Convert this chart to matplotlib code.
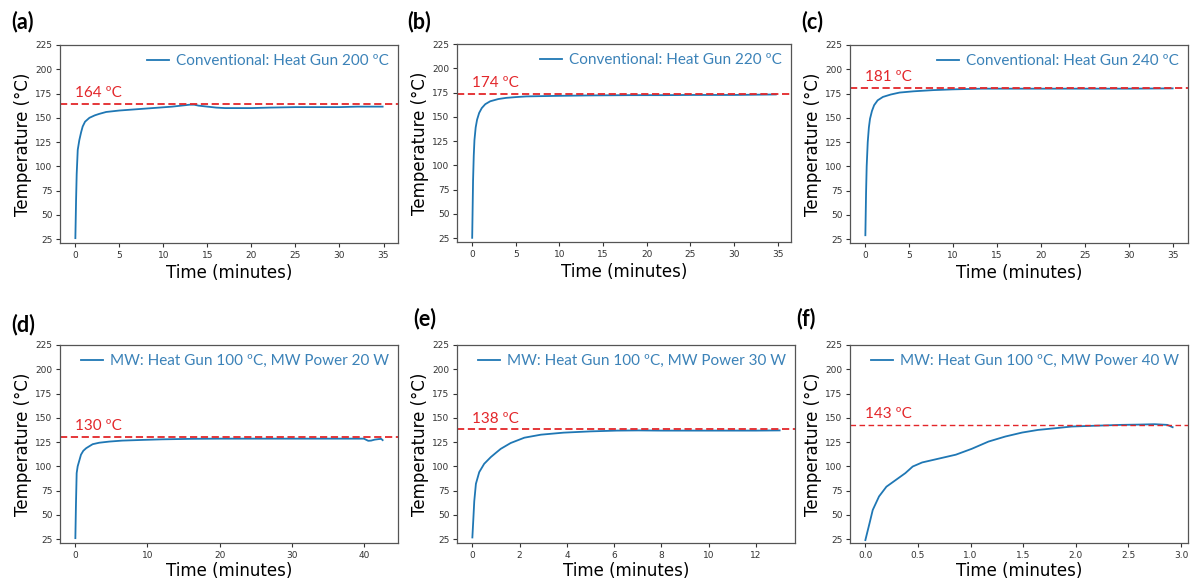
import matplotlib
matplotlib.use("Agg")
import matplotlib.pyplot as plt
import matplotlib.transforms as mtransforms

# ---------------- data ----------------
t_a = [0, 0.08, 0.15, 0.27, 0.45, 0.65, 0.83, 1.1, 1.6, 2.2, 2.7, 3.5, 5, 6.5, 8, 9.5,
       11, 12, 13, 13.5, 14, 15, 16, 17, 18, 20, 22, 25, 28, 30, 32, 34.9]
T_a = [26, 65, 92, 117, 127, 135, 141, 146, 150, 152.5, 154, 156, 157.5, 158.5, 159.5, 160.5,
       161.5, 162.5, 163.5, 163.5, 162.5, 161.5, 160.5, 160, 160, 160, 160.5, 161, 161, 161, 161.5, 161.5]

t_b = [0, 0.1, 0.18, 0.26, 0.4, 0.56, 0.8, 1.1, 1.5, 2.07, 3, 3.9, 5, 6.2, 8, 10, 13.3,
       18, 22, 25, 30, 34.8]
T_b = [25.3, 84, 110, 126, 139, 147, 154, 159, 163, 166, 168.3, 169.5, 170.3, 171, 171.3, 171.6, 172,
       172.3, 172.3, 172.5, 172.5, 173]

t_c = [0, 0.08, 0.15, 0.27, 0.4, 0.53, 0.75, 1.0, 1.4, 2.0, 2.9, 3.9, 5.5, 7.7, 10, 13.3,
       17, 20, 25, 30, 35]
T_c = [29, 73, 100, 125, 140, 149, 157, 163, 168, 171.5, 174, 176, 177.3, 178.5, 179.3, 180,
       180, 180, 180, 180, 180.3]

t_d = [0, 0.08, 0.18, 0.32, 0.55, 0.78, 1.1, 1.5, 2.0, 2.4, 3.3, 4.7, 6.5, 9.3, 12, 16, 20,
       25, 30, 35, 40, 40.6, 41.0, 41.5, 42.0, 42.4, 42.6]
T_d = [26, 60, 93, 100, 106, 112, 116, 118.7, 121, 122.8, 124.3, 125.5, 126.5, 127.2, 127.8, 128.3, 128.5,
       128.5, 128.5, 128.5, 128.5, 126.3, 126.5, 127.5, 128, 128.3, 127]

t_e = [0, 0.04, 0.08, 0.15, 0.29, 0.5, 0.78, 1.0, 1.2, 1.62, 2.2, 2.9, 3.86, 5, 6.1, 7, 8,
       9, 10, 11, 12, 13]
T_e = [26.7, 45, 64, 82, 94, 102.6, 109.5, 114, 118, 124, 129.5, 132.6, 134.7, 136, 136.8, 137, 136.8,
       136.8, 136.8, 136.8, 136.8, 137]

t_f = [0, 0.04, 0.07, 0.13, 0.2, 0.29, 0.38, 0.45, 0.54, 0.7, 0.86, 1.01, 1.17, 1.33, 1.49,
       1.64, 1.8, 1.96, 2.12, 2.43, 2.6, 2.75, 2.87, 2.92]
T_f = [24, 41.5, 55, 69, 79, 86, 93, 99.8, 104, 108, 112, 118, 125.5, 130.7, 134.8,
       137.5, 139.2, 141, 141.6, 142.7, 143, 143.4, 142.7, 140.3]

panel_letters = ["(a)", "(b)", "(c)", "(d)", "(e)", "(f)"]
legend_labels = ["Conventional: Heat Gun 200 ºC",
                 "Conventional: Heat Gun 220 ºC",
                 "Conventional: Heat Gun 240 ºC",
                 "MW: Heat Gun 100 ºC, MW Power 20 W",
                 "MW: Heat Gun 100 ºC, MW Power 30 W",
                 "MW: Heat Gun 100 ºC, MW Power 40 W"]
steady_values = [164, 174, 181, 130, 138, 143]
x_ticks = [[0, 5, 10, 15, 20, 25, 30, 35]] * 3 + [[0, 10, 20, 30, 40],
                                                   [0, 2, 4, 6, 8, 10, 12],
                                                   [0.0, 0.5, 1.0, 1.5, 2.0, 2.5, 3.0]]
y_ticks = [25, 50, 75, 100, 125, 150, 175, 200, 225]

times = [t_a, t_b, t_c, t_d, t_e, t_f]
temps = [T_a, T_b, T_c, T_d, T_e, T_f]

# ---------------- layout (pixels) ----------------
W, H = 1190, 579
boxes = [(60, 398, 45, 243), (457, 791, 44, 242), (850, 1188, 45, 243),
         (60, 398, 345, 543), (457, 795, 345, 543), (850, 1188, 345, 543)]
letter_pos = [(11, 11), (407, 11), (801, 11), (11, 314), (413, 308), (796, 308)]

fig = plt.figure(figsize=(W / 100, H / 100), dpi=100)
fig.patch.set_facecolor("white")

LINE_C = "#1f77b4"
TEXT_C = "#3b82b8"
RED = "#e3262a"
UI_FONT = ["Lato", "DejaVu Sans"]

for i in range(6):
    l, r, tp, b = boxes[i]
    ax = fig.add_axes([l / W, (H - b) / H, (r - l) / W, (b - tp) / H])
    ax.plot(times[i], temps[i], color=LINE_C, lw=1.3, label=legend_labels[i])
    ax.axhline(steady_values[i], color=RED, ls="--", lw=1.3 if i < 5 else 1.0,
               dashes=(4, 2) if i < 5 else (4, 2.5))
    ax.set_ylim(21, 225)
    ax.set_yticks(y_ticks)
    ax.set_xticks(x_ticks[i])
    if i == 5:
        ax.set_xticklabels(["%.1f" % v for v in x_ticks[i]])
    ax.tick_params(labelsize=6.5, length=3, width=0.8, colors="#333333", pad=2.5)
    for s in ax.spines.values():
        s.set_color("#555555")
        s.set_linewidth(0.9)
    ax.set_xlabel("Time (minutes)", fontsize=12, labelpad=3 if i < 3 else 1.5)
    ax.set_ylabel("Temperature (°C)", fontsize=12, labelpad=2)

    leg = ax.legend(loc="upper right", frameon=False,
                    handlelength=1.45, handletextpad=0.45,
                    borderaxespad=0.2, prop={"family": UI_FONT, "size": 11})
    for txt in leg.get_texts():
        txt.set_color(TEXT_C)

    trans = mtransforms.blended_transform_factory(ax.transAxes, ax.transData)
    ax.text(0.045, steady_values[i] + 4, f"{steady_values[i]} ºC", transform=trans,
            color=RED, fontsize=11, family=UI_FONT, ha="left", va="bottom")

    fig.text(letter_pos[i][0] / W, 1 - letter_pos[i][1] / H, panel_letters[i],
             fontsize=15.5, fontweight="bold", family=UI_FONT, ha="left", va="top")

fig.savefig("out.png", dpi=100, facecolor="white")
